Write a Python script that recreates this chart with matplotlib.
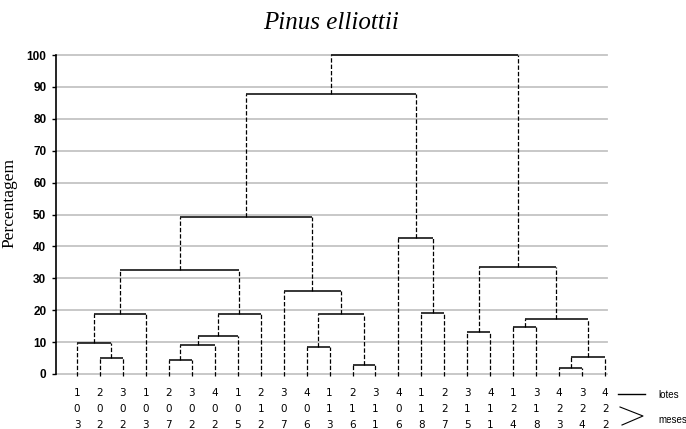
"""
Dendrogram of Pinus elliottii lots (lotes) and months (meses).
"""
import matplotlib
matplotlib.use('Agg')
import matplotlib.pyplot as plt
from matplotlib.lines import Line2D

# ------------------------------------------------------------------ #
# Data
# ------------------------------------------------------------------ #
leaf_labels = ['103', '202', '302', '103', '207', '302', '402', '105',
               '212', '307', '406', '113', '216', '311', '406', '118',
               '227', '315', '411', '124', '318', '423', '324', '422']

# children: 'L<i>' = leaf i, 'M<j>' = earlier merge j
merge_left = ['L1', 'L0', 'M1', 'L4', 'M3', 'M4', 'M5', 'M2',
              'L10', 'L12', 'M8', 'L9', 'M7', 'L15', 'L14', 'M12',
              'L17', 'L19', 'L21', 'M18', 'M17', 'M16', 'M15']
merge_right = ['L2', 'M0', 'L3', 'L5', 'L6', 'L7', 'L8', 'M6',
               'L11', 'L13', 'M9', 'M10', 'M11', 'L16', 'M13', 'M14',
               'L18', 'L20', 'L22', 'L23', 'M19', 'M20', 'M21']
merge_height = [5.0, 9.8, 18.7, 4.4, 9.1, 12.0, 18.8, 32.5,
                8.4, 2.9, 18.7, 26.0, 49.1, 19.1, 42.7, 87.9,
                13.1, 14.7, 1.8, 5.3, 17.2, 33.4, 100.0]

y_ticks = list(range(0, 101, 10))

# ------------------------------------------------------------------ #
# Figure
# ------------------------------------------------------------------ #
W, H = 686, 429
fig = plt.figure(figsize=(W / 100, H / 100), dpi=100)
fig.patch.set_facecolor('white')

x0_px, x_step = 77.0, 22.96
ax_left, ax_right = 56, 607
y0_px, y100_px = 374, 55
ax = fig.add_axes([ax_left / W, (H - y0_px) / H,
                   (ax_right - ax_left) / W, (y0_px - y100_px) / H])
ax.set_xlim((ax_left - x0_px) / x_step, (ax_right - x0_px) / x_step)
ax.set_ylim(0, 100)

for s in ['top', 'right', 'bottom']:
    ax.spines[s].set_visible(False)
ax.spines['left'].set_linewidth(1.2)
ax.spines['left'].set_color('black')

ax.set_xticks([])
ax.set_yticks(y_ticks)
ax.set_yticklabels([str(t) for t in y_ticks], fontfamily='Liberation Sans',
                   fontweight='bold', fontsize=8.5)
ax.tick_params(axis='y', length=3, width=1, pad=4)

for t in y_ticks:
    ax.axhline(t, color='#c4c4c4', lw=1.3, zorder=0, clip_on=False)


def node(ref):
    """Return (x, base height) of a leaf or merge node."""
    if ref[0] == 'L':
        return float(ref[1:]), -0.7
    return centres[int(ref[1:])], merge_height[int(ref[1:])]


dash = (0, (3.5, 1.6))
centres = []
for a, b, h in zip(merge_left, merge_right, merge_height):
    xa, ha = node(a)
    xb, hb = node(b)
    ax.plot([xa, xa], [ha, h], color='black', lw=0.9, ls=dash, clip_on=False)
    ax.plot([xb, xb], [hb, h], color='black', lw=0.9, ls=dash, clip_on=False)
    ax.plot([xa, xb], [h, h], color='black', lw=1.1, clip_on=False,
            solid_capstyle='butt')
    centres.append((xa + xb) / 2)

# stacked leaf labels
row_off = [13.5, 25, 36.5]
for i, lab in enumerate(leaf_labels):
    for k, ch in enumerate(lab):
        ax.annotate(ch, xy=(i, 0), xytext=(0, -row_off[k]),
                    textcoords='offset points', ha='center', va='center',
                    fontfamily='DejaVu Sans', fontsize=7.5,
                    annotation_clip=False)

ax.set_ylabel('Percentagem', fontfamily='Liberation Serif', fontsize=12.5)
ax.yaxis.set_label_coords(17 / W, (H - 203) / H, transform=fig.transFigure)

fig.text(331 / W, (H - 23) / H, 'Pinus elliottii', ha='center', va='center',
         fontfamily='Liberation Serif', fontstyle='italic', fontsize=18)

# legend: lotes / meses
fig.add_artist(Line2D([618 / W, 645 / W], [(H - 394) / H, (H - 394) / H],
                      color='black', lw=1))
fig.add_artist(Line2D([620 / W, 643 / W, 622 / W],
                      [(H - 407) / H, (H - 416) / H, (H - 425) / H],
                      color='black', lw=0.8))
fig.text(658 / W, (H - 395) / H, 'lotes', ha='left', va='center',
         fontfamily='Liberation Sans', fontsize=7)
fig.text(658 / W, (H - 420) / H, 'meses', ha='left', va='center',
         fontfamily='Liberation Sans', fontsize=7)

fig.savefig('out.png', dpi=100, facecolor='white')
